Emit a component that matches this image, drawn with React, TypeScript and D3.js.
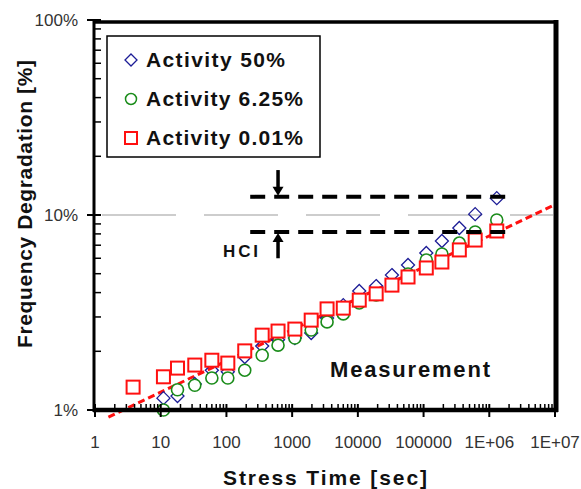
import React from "react";
import * as d3 from "d3";

// stress time in seconds
const timesRed = [3.8, 11, 18, 33, 60, 105, 190, 350, 610, 1100, 1950, 3400, 6000, 10500, 19000, 33000, 58000, 110000, 190000, 350000, 610000, 1300000];
const timesOther = [11, 18, 33, 60, 105, 190, 350, 610, 1100, 1950, 3400, 6000, 10500, 19000, 33000, 58000, 110000, 190000, 350000, 610000, 1300000];

// frequency degradation in %
const act50 = [1.15, 1.18, 1.36, 1.6, 1.57, 1.87, 2.13, 2.29, 2.34, 2.48, 2.96, 3.45, 4.08, 4.32, 4.92, 5.54, 6.39, 7.36, 8.58, 10.1, 12.2];
const act625 = [1.0, 1.27, 1.34, 1.46, 1.46, 1.6, 1.91, 2.15, 2.34, 2.57, 2.83, 3.11, 3.54, 3.89, 4.38, 4.98, 5.88, 6.31, 7.18, 8.18, 9.43];
const act001 = [1.31, 1.48, 1.64, 1.7, 1.8, 1.74, 2.01, 2.42, 2.54, 2.6, 2.89, 3.3, 3.33, 3.66, 3.94, 4.37, 4.81, 5.35, 5.74, 6.62, 7.44, 8.28];

// power-law fit (time, %)
const fitLine: [number, number][] = [[1.6, 0.92], [1e7, 11.3]];

// HCI lifetime band
const hciUpper = 12.4;
const hciLower = 8.18;
const hciRange = [230, 1.9e6];
const hciArrowT = 610;

const xTicks = [1, 10, 100, 1000, 10000, 100000, 1e6, 1e7];
const xTickLabels = ["1", "10", "100", "1000", "10000", "100000", "1E+06", "1E+07"];
const yTicks = [1, 10, 100];
const yTickLabels = ["1%", "10%", "100%"];

const legendItems = ["Activity 50%", "Activity 6.25%", "Activity 0.01%"];

const FONT = "'Liberation Sans', Arial, Helvetica, sans-serif";
const BLUE = "#1c1c96";
const GREEN = "#1a8c1a";
const RED = "#ff1010";

export default function App() {
  const x = d3.scaleLog().domain([1, 1e7]).range([95, 555]);
  const y = d3.scaleLog().domain([1, 100]).range([410, 20]);

  const minorX: number[] = [];
  for (let e = 0; e < 7; e++) for (let k = 2; k <= 9; k++) minorX.push(k * Math.pow(10, e));
  const minorY: number[] = [];
  for (let e = 0; e < 2; e++) for (let k = 2; k <= 9; k++) minorY.push(k * Math.pow(10, e));

  const line = d3.line<[number, number]>().x((d) => x(d[0])).y((d) => y(d[1]));

  const diamond = (cx: number, cy: number, r: number) =>
    `M${cx},${cy - r}L${cx + r},${cy}L${cx},${cy + r}L${cx - r},${cy}Z`;

  const ax = x(hciArrowT);

  return (
    <svg width={581} height={489} style={{ position: "absolute", left: 0, top: 0, background: "#fff" }} fontFamily={FONT}>
      <rect x={0} y={0} width={581} height={489} fill="#fff" />
      {/* 10% grid line */}
      <line x1={102} x2={553} y1={y(10)} y2={y(10)} stroke="#bdbdbd" strokeWidth={1.5} strokeDasharray="74,28" />

      {/* fit line */}
      <path d={line(fitLine) ?? ""} fill="none" stroke={RED} strokeWidth={3} strokeDasharray="7,4" />

      {/* markers */}
      {act50.map((v, i) => (
        <path key={"b" + i} d={diamond(x(timesOther[i]), y(v), 6.5)} fill="none" stroke={BLUE} strokeWidth={1.3} />
      ))}
      {act625.map((v, i) => (
        <circle key={"g" + i} cx={x(timesOther[i])} cy={y(v)} r={6} fill="#fff" stroke={GREEN} strokeWidth={1.6} />
      ))}
      {act001.map((v, i) => (
        <rect key={"r" + i} x={x(timesRed[i]) - 6.5} y={y(v) - 6.5} width={13} height={13} fill="#fff" stroke={RED} strokeWidth={2} />
      ))}

      {/* HCI band */}
      {[hciUpper, hciLower].map((v) => (
        <line key={v} x1={x(hciRange[0])} x2={x(hciRange[1])} y1={y(v)} y2={y(v)} stroke="#000" strokeWidth={4} strokeDasharray="15,9" />
      ))}
      <line x1={ax} x2={ax} y1={y(17)} y2={y(hciUpper) - 8} stroke="#000" strokeWidth={3.5} />
      <path d={`M${ax - 5.5},${y(hciUpper) - 10}L${ax + 5.5},${y(hciUpper) - 10}L${ax},${y(hciUpper) - 1}Z`} fill="#000" />
      <line x1={ax} x2={ax} y1={y(hciLower) + 8} y2={y(6.0)} stroke="#000" strokeWidth={3.5} />
      <path d={`M${ax - 5.5},${y(hciLower) + 10}L${ax + 5.5},${y(hciLower) + 10}L${ax},${y(hciLower) + 1}Z`} fill="#000" />
      <text x={223} y={257} fontSize={17} fontWeight="bold" textLength={35} lengthAdjust="spacing" fill="#111">HCI</text>

      <text x={330} y={377} fontSize={22} fontWeight="bold" textLength={160} lengthAdjust="spacing" fill="#111">Measurement</text>

      {/* legend */}
      <rect x={107} y={36} width={213} height={121} fill="#fff" stroke="#000" strokeWidth={1.5} />
      {legendItems.map((label, i) => {
        const cy = 60 + i * 39;
        return (
          <g key={label}>
            {i === 0 && <path d={diamond(131, cy, 6)} fill="none" stroke={BLUE} strokeWidth={1.3} />}
            {i === 1 && <circle cx={131} cy={cy} r={5.5} fill="none" stroke={GREEN} strokeWidth={1.5} />}
            {i === 2 && <rect x={125} y={cy - 6} width={12} height={12} fill="none" stroke={RED} strokeWidth={2} />}
            <text x={146} y={cy + 7} fontSize={21} fontWeight="bold" fill="#111"
              textLength={i === 0 ? 139 : 157} lengthAdjust="spacing">{label}</text>
          </g>
        );
      })}

      {/* frame */}
      <line x1={95} x2={557} y1={22} y2={22} stroke="#000" strokeWidth={3.5} />
      <line x1={556} x2={556} y1={20} y2={412} stroke="#000" strokeWidth={5} />
      <line x1={94} x2={94} y1={20} y2={412} stroke="#000" strokeWidth={3} />
      <line x1={93} x2={558} y1={410} y2={410} stroke="#000" strokeWidth={4.5} />

      {/* x ticks */}
      {minorX.map((t) => (
        <line key={"mx" + t} x1={x(t)} x2={x(t)} y1={410} y2={404} stroke="#000" strokeWidth={1.5} />
      ))}
      {xTicks.map((t, i) => (
        <g key={"x" + t}>
          <line x1={x(t)} x2={x(t)} y1={404} y2={417} stroke="#000" strokeWidth={2} />
          <text x={x(t)} y={448} fontSize={17} textAnchor="middle" fill="#333">{xTickLabels[i]}</text>
        </g>
      ))}

      {/* y ticks */}
      {minorY.map((v) => (
        <line key={"my" + v} x1={94} x2={101} y1={y(v)} y2={y(v)} stroke="#000" strokeWidth={1.5} />
      ))}
      {yTicks.map((v, i) => (
        <g key={"y" + v}>
          <line x1={87} x2={101} y1={y(v)} y2={y(v)} stroke="#000" strokeWidth={2} />
          <text x={78} y={y(v) + 6} fontSize={17} textAnchor="end" fill="#333">{yTickLabels[i]}</text>
        </g>
      ))}

      {/* axis titles */}
      <text x={325} y={485} fontSize={21} fontWeight="bold" textAnchor="middle" textLength={204} lengthAdjust="spacing" fill="#111">Stress Time [sec]</text>
      <text transform="translate(32,204) rotate(-90)" fontSize={21} fontWeight="bold" textAnchor="middle" textLength={288} lengthAdjust="spacing" fill="#111">Frequency Degradation [%]</text>
    </svg>
  );
}
